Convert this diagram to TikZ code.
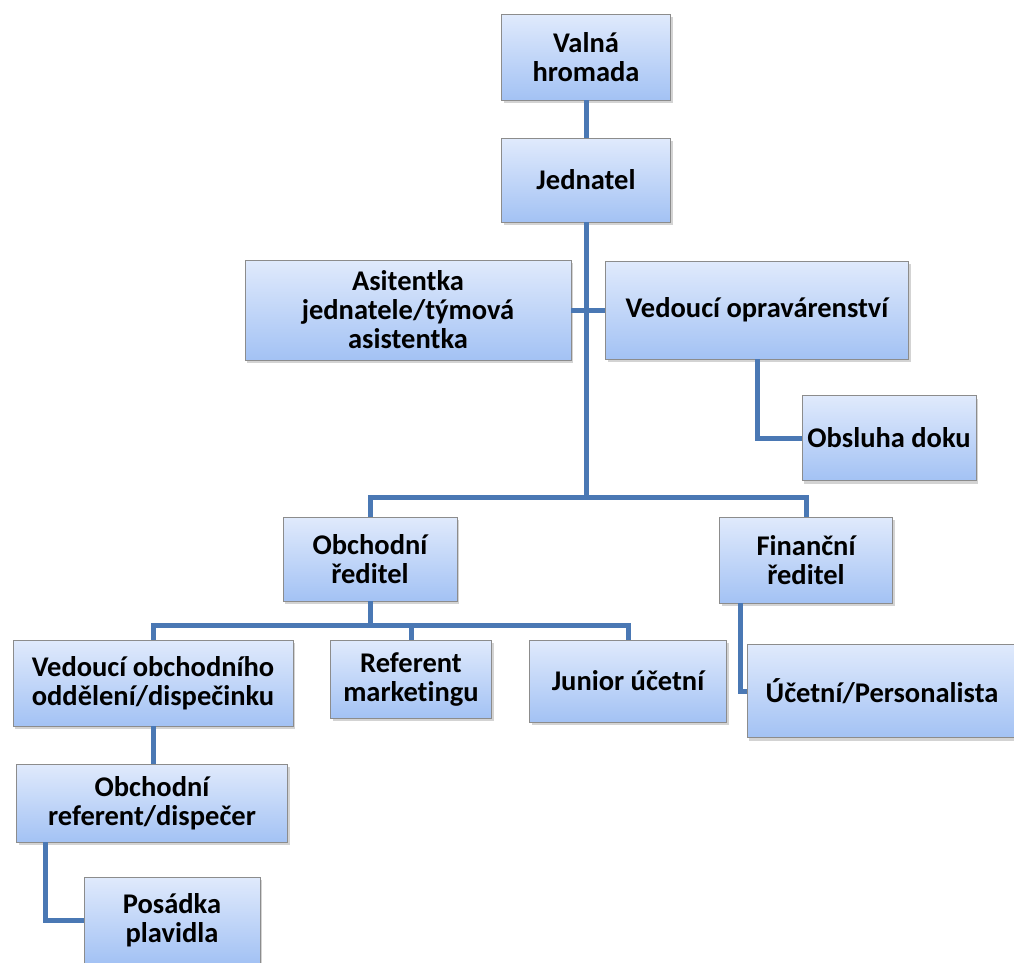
\documentclass[tikz,border=0pt]{standalone}
\usepackage{fontspec}
\setmainfont{Carlito}[Ligatures=CommonOff]
\usepackage{xcolor}
\usetikzlibrary{shadows}
\definecolor{boxtop}{HTML}{E0EAFC}
\definecolor{boxbot}{HTML}{A3C2F4}
\definecolor{linkblue}{HTML}{4A78B4}

\begin{document}
\begin{tikzpicture}%
  [x=1pt,y=-1pt,
   org/.style={rectangle,draw=black!45,line width=0.8pt,
     top color=boxtop,bottom color=boxbot,inner sep=0pt,align=center,
     drop shadow={opacity=0.35,shadow xshift=2pt,shadow yshift=-3pt},
     font=\bfseries\fontsize{28.5}{29}\selectfont},
   link/.style={draw=linkblue,line width=5pt}]
  \useasboundingbox (0,0) rectangle (1014,962);
  % boxes
  \node(vh)[org,minimum width=169,minimum height=86] at (586,57){Valná\\hromada};
  \node(jed)[org,minimum width=169,minimum height=84] at (586,180){Jednatel};
  \node(asi)[org,minimum width=326,minimum height=100] at (408,310){Asitentka\\jednatele/týmová\\asistentka};
  \node(opr)[org,minimum width=303,minimum height=98] at (757,310){Vedoucí opravárenství};
  \node(dok)[org,minimum width=174,minimum height=85] at (889,438){Obsluha doku};
  \node(obr)[org,minimum width=174,minimum height=84] at (370,559){Obchodní\\ředitel};
  \node(fin)[org,minimum width=173,minimum height=86] at (806,560){Finanční\\ředitel};
  \node(vob)[org,minimum width=280,minimum height=86] at (153,683){Vedoucí obchodního\\oddělení/dispečinku};
  \node(ref)[org,minimum width=161,minimum height=78] at (411,679){Referent\\marketingu};
  \node(jun)[org,minimum width=197,minimum height=82] at (628,681){Junior účetní};
  \node(uce)[org,minimum width=270,minimum height=93] at (882,691){Účetní/Personalista};
  \node(oref)[org,minimum width=271,minimum height=78] at (152,803){Obchodní\\referent/dispečer};
  \node(pos)[org,minimum width=176,minimum height=86] at (172,920){Posádka\\plavidla};
  % connectors
  \coordinate(bus) at (0,497);
  \coordinate(bus2) at (0,625);
  \draw[link] (vh.south) -- (jed.north);
  \draw[link] (jed.south) -- (jed.south |- bus);
  \draw[link] (asi.east) -- (opr.west);
  \draw[link] (opr.south) |- (dok.west);
  \draw[link] (obr.north) -- (obr.north |- bus) -- (fin.north |- bus) -- (fin.north);
  \draw[link] (obr.south) -- (obr.south |- bus2);
  \draw[link] (vob.north) -- (vob.north |- bus2) -- (jun.north |- bus2) -- (jun.north);
  \draw[link] (ref.north) -- (ref.north |- bus2);
  \draw[link] ([xshift=-66pt]fin.south) |- (uce.west);
  \draw[link] (vob.south) -- (vob.south |- oref.north);
  \draw[link] ([xshift=-107pt]oref.south) |- (pos.west);
\end{tikzpicture}
\end{document}
